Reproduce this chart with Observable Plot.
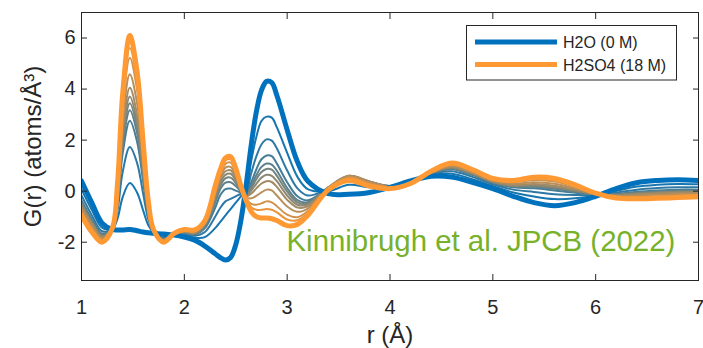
<!DOCTYPE html>
<html>
<head>
<meta charset="utf-8">
<script src="https://cdn.jsdelivr.net/npm/d3@7"></script>
<script src="https://cdn.jsdelivr.net/npm/@observablehq/plot@0.6"></script>
<style>
  body { margin: 0; background: #fff; }
  #chart svg { display: block; }
</style>
</head>
<body>
<div id="chart"></div>
<script>
// Radial distance grid (Å) shared by every G(r) curve
const rValues = [1.0, 1.1, 1.2, 1.3, 1.35, 1.4, 1.47, 1.54, 1.6, 1.65, 1.7, 1.8, 1.9, 2.0, 2.1, 2.2, 2.3, 2.35, 2.4, 2.45, 2.5, 2.55, 2.6, 2.65, 2.7, 2.75, 2.8, 2.85, 2.9, 3.0, 3.1, 3.2, 3.4, 3.6, 3.8, 4.0, 4.2, 4.4, 4.6, 4.8, 5.0, 5.2, 5.4, 5.6, 5.8, 6.0, 6.2, 6.4, 6.6, 6.8, 7.0];

// Pure water, 0 M
const gH2O = [0.40, -0.45, -1.25, -1.50, -1.52, -1.52, -1.50, -1.55, -1.60, -1.63, -1.65, -1.68, -1.72, -1.80, -1.92, -2.15, -2.45, -2.60, -2.70, -2.60, -2.10, -1.15, 0.20, 1.80, 3.10, 3.95, 4.30, 4.25, 3.75, 2.40, 1.15, 0.40, -0.10, -0.12, -0.05, 0.15, 0.40, 0.58, 0.55, 0.35, 0.10, -0.20, -0.45, -0.57, -0.45, -0.20, 0.10, 0.33, 0.42, 0.45, 0.42];

// Intermediate acid concentrations, from dilute to concentrated
const gMix1 = [0.08, -0.73, -1.43, -1.49, -1.08, -0.24, 0.32, -0.05, -0.76, -1.34, -1.61, -1.76, -1.70, -1.73, -1.82, -1.80, -1.45, -1.20, -0.95, -0.70, -0.45, -0.20, 0.07, 1.18, 2.12, 2.75, 2.92, 2.88, 2.50, 1.50, 0.56, 0.08, 0.00, 0.25, 0.15, 0.17, 0.38, 0.63, 0.68, 0.47, 0.20, -0.05, -0.21, -0.31, -0.28, -0.17, 0.01, 0.18, 0.25, 0.28, 0.27];
const gMix2 = [-0.17, -0.94, -1.57, -1.48, -0.75, 0.74, 1.73, 1.11, -0.11, -1.11, -1.59, -1.82, -1.69, -1.67, -1.75, -1.60, -1.00, -0.65, -0.40, -0.30, -0.20, -0.10, -0.03, 0.70, 1.36, 1.83, 2.03, 1.98, 1.67, 0.81, 0.11, -0.17, 0.08, 0.40, 0.25, 0.20, 0.36, 0.67, 0.78, 0.56, 0.27, 0.06, -0.03, -0.12, -0.15, -0.15, -0.06, 0.06, 0.12, 0.15, 0.15];
const gMix3 = [-0.36, -1.09, -1.67, -1.47, -0.50, 1.46, 2.76, 1.95, 0.36, -0.94, -1.57, -1.86, -1.68, -1.63, -1.70, -1.45, -0.65, -0.15, 0.08, 0.10, 0.02, -0.05, -0.11, 0.34, 0.85, 1.25, 1.40, 1.37, 1.08, 0.35, -0.20, -0.36, 0.12, 0.50, 0.32, 0.20, 0.35, 0.69, 0.86, 0.63, 0.32, 0.15, 0.11, 0.03, -0.06, -0.13, -0.11, -0.02, 0.03, 0.06, 0.06];
const gMix4 = [-0.43, -1.16, -1.71, -1.47, -0.40, 1.75, 3.17, 2.29, 0.55, -0.87, -1.56, -1.88, -1.68, -1.62, -1.67, -1.40, -0.45, 0.08, 0.33, 0.35, 0.20, 0.00, -0.14, 0.20, 0.62, 0.95, 1.08, 1.04, 0.80, 0.12, -0.35, -0.43, 0.14, 0.55, 0.35, 0.20, 0.35, 0.70, 0.89, 0.66, 0.35, 0.18, 0.17, 0.09, -0.02, -0.13, -0.13, -0.06, -0.01, 0.02, 0.03];
const gMix5 = [-0.48, -1.20, -1.74, -1.47, -0.34, 1.94, 3.44, 2.51, 0.68, -0.83, -1.55, -1.89, -1.67, -1.61, -1.66, -1.35, -0.35, 0.22, 0.50, 0.53, 0.32, 0.03, -0.16, 0.11, 0.47, 0.75, 0.87, 0.84, 0.60, -0.02, -0.44, -0.48, 0.15, 0.58, 0.37, 0.20, 0.34, 0.71, 0.91, 0.68, 0.36, 0.20, 0.20, 0.13, 0.01, -0.12, -0.14, -0.08, -0.04, -0.01, 0.00];
const gMix6 = [-0.52, -1.24, -1.76, -1.47, -0.27, 2.12, 3.71, 2.73, 0.80, -0.79, -1.55, -1.90, -1.67, -1.59, -1.65, -1.30, -0.25, 0.33, 0.64, 0.68, 0.42, 0.06, -0.18, 0.02, 0.29, 0.53, 0.64, 0.60, 0.39, -0.17, -0.53, -0.52, 0.15, 0.60, 0.38, 0.20, 0.34, 0.72, 0.93, 0.69, 0.37, 0.22, 0.24, 0.16, 0.03, -0.12, -0.15, -0.10, -0.06, -0.03, -0.02];
const gMix7 = [-0.59, -1.29, -1.80, -1.46, -0.19, 2.36, 4.05, 3.01, 0.96, -0.73, -1.54, -1.91, -1.67, -1.58, -1.63, -1.27, -0.15, 0.45, 0.78, 0.82, 0.52, 0.09, -0.20, -0.10, 0.11, 0.30, 0.39, 0.36, 0.17, -0.34, -0.64, -0.59, 0.14, 0.60, 0.38, 0.19, 0.33, 0.73, 0.95, 0.72, 0.39, 0.25, 0.28, 0.21, 0.06, -0.11, -0.17, -0.13, -0.09, -0.06, -0.05];
const gMix8 = [-0.68, -1.37, -1.85, -1.46, -0.06, 2.74, 4.58, 3.45, 1.20, -0.65, -1.53, -1.94, -1.66, -1.56, -1.60, -1.23, -0.05, 0.56, 0.92, 0.95, 0.62, 0.12, -0.24, -0.28, -0.18, -0.05, 0.06, 0.03, -0.17, -0.60, -0.81, -0.68, 0.12, 0.58, 0.35, 0.17, 0.32, 0.74, 0.99, 0.75, 0.42, 0.30, 0.35, 0.29, 0.11, -0.10, -0.20, -0.17, -0.14, -0.11, -0.09];
const gMix9 = [-0.79, -1.47, -1.91, -1.46, 0.09, 3.19, 5.23, 3.98, 1.50, -0.54, -1.52, -1.96, -1.66, -1.53, -1.57, -1.19, 0.05, 0.68, 1.07, 1.12, 0.72, 0.15, -0.29, -0.50, -0.53, -0.48, -0.40, -0.44, -0.59, -0.92, -1.02, -0.79, 0.10, 0.54, 0.30, 0.14, 0.31, 0.76, 1.04, 0.79, 0.45, 0.35, 0.44, 0.38, 0.17, -0.09, -0.23, -0.23, -0.20, -0.17, -0.15];
const gMix10 = [-0.86, -1.53, -1.95, -1.45, 0.18, 3.45, 5.61, 4.29, 1.67, -0.48, -1.51, -1.98, -1.65, -1.52, -1.55, -1.17, 0.12, 0.78, 1.20, 1.25, 0.82, 0.18, -0.31, -0.63, -0.73, -0.73, -0.70, -0.73, -0.83, -1.11, -1.14, -0.86, 0.07, 0.50, 0.25, 0.12, 0.31, 0.77, 1.06, 0.82, 0.47, 0.38, 0.49, 0.43, 0.20, -0.09, -0.25, -0.26, -0.23, -0.20, -0.18];

// Concentrated sulfuric acid, 18 M
const gH2SO4 = [-0.95, -1.60, -2.00, -1.45, 0.30, 3.80, 6.10, 4.70, 1.90, -0.40, -1.50, -2.00, -1.65, -1.50, -1.52, -1.15, 0.20, 0.85, 1.30, 1.35, 0.90, 0.20, -0.35, -0.80, -1.00, -1.05, -1.05, -1.08, -1.15, -1.35, -1.30, -0.95, 0.05, 0.42, 0.20, 0.10, 0.30, 0.78, 1.10, 0.85, 0.50, 0.42, 0.55, 0.50, 0.25, -0.08, -0.27, -0.30, -0.28, -0.25, -0.22];

const xTicks = [1, 2, 3, 4, 5, 6, 7];
const yTicks = [-2, 0, 2, 4, 6];
const legendLabels = ["H2O (0 M)", "H2SO4 (18 M)"];
const xLabel = "r (Å)";
const yLabel = "G(r) (atoms/Å³)";
const citation = "Kinnibrugh et al. JPCB (2022)";

// ---- drawing ----
const series = [gH2O, gMix1, gMix2, gMix3, gMix4, gMix5, gMix6, gMix7, gMix8, gMix9, gMix10, gH2SO4];
const BLUE = "#0072BD";
const ORANGE = "#FF9933";
const INK = "#262626";
const FONT = "'Liberation Sans', Arial, Helvetica, sans-serif";
const shade = d3.interpolateRgb(BLUE, ORANGE);
const last = series.length - 1;

const rows = series.map((vals) => rValues.map((r, j) => ({r, g: vals[j]})));

function curve(i) {
  const thick = i === 0 || i === last;
  return Plot.line(rows[i], {
    x: "r", y: "g",
    stroke: shade(i / last),
    strokeWidth: thick ? 5 : 2,
    curve: "catmull-rom",
    clip: true
  });
}

const thinCurves = d3.range(1, last).map(curve);

const chart = Plot.plot({
  width: 703,
  height: 348,
  marginLeft: 81,
  marginRight: 5,
  marginTop: 12,
  marginBottom: 68,
  style: {fontFamily: FONT, background: "#fff", color: INK, overflow: "hidden"},
  x: {domain: [1, 7]},
  y: {domain: [-3.5, 7]},
  marks: [
    ...thinCurves,
    curve(0),
    curve(last),
    Plot.frame({stroke: INK, strokeWidth: 1}),
    // inward ticks on all four sides
    Plot.axisX({anchor: "bottom", ticks: xTicks, tickSize: -6, fill: "none", label: null, stroke: INK}),
    Plot.axisX({anchor: "top", ticks: xTicks, tickSize: -6, fill: "none", label: null, stroke: INK}),
    Plot.axisY({anchor: "left", ticks: yTicks, tickSize: -6, fill: "none", label: null, stroke: INK}),
    Plot.axisY({anchor: "right", ticks: yTicks, tickSize: -6, fill: "none", label: null, stroke: INK}),
    // tick labels
    Plot.axisX({anchor: "bottom", ticks: xTicks, tickSize: 0, tickPadding: 19, fontSize: 20, label: null, fill: INK, tickFormat: (d) => `${d}`}),
    Plot.axisY({anchor: "left", ticks: yTicks, tickSize: 0, tickPadding: 6, fontSize: 20, label: null, fill: INK, tickFormat: (d) => `${d}`}),
    // axis titles
    Plot.text([xLabel], {text: (d) => d, frameAnchor: "bottom", dy: 62.5, lineAnchor: "bottom", textAnchor: "middle", fontSize: 24, fill: INK}),
    Plot.text([yLabel], {text: (d) => d, frameAnchor: "left", dx: -41, rotate: -90, lineAnchor: "bottom", textAnchor: "middle", fontSize: 24, fill: INK}),
    // citation
    Plot.text([citation], {text: (d) => d, frameAnchor: "top-left", dx: 205, dy: 238.7, textAnchor: "start", lineAnchor: "bottom", fontSize: 29.4, fill: "#77B12A"})
  ]
});

document.getElementById("chart").appendChild(chart);

// legend box in the upper right of the axes
const svg = d3.select(chart);
const legend = svg.append("g")
  .attr("font-family", FONT).attr("font-size", 16).attr("fill", INK).attr("text-anchor", "start");
legend.append("rect")
  .attr("x", 466.5).attr("y", 25.5).attr("width", 210).attr("height", 54.5)
  .attr("fill", "#fff").attr("stroke", INK).attr("stroke-width", 1);
[BLUE, ORANGE].forEach((color, k) => {
  const yc = 42 + k * 22.5;
  legend.append("line")
    .attr("x1", 475).attr("x2", 557).attr("y1", yc).attr("y2", yc)
    .attr("stroke", color).attr("stroke-width", 5);
  legend.append("text")
    .attr("x", 563).attr("y", yc + 6.3)
    .attr("text-anchor", "start")
    .text(legendLabels[k]);
});
</script>
</body>
</html>
